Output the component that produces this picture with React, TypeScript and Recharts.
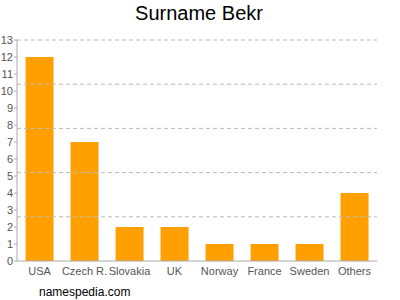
import { Bar, BarChart, ReferenceLine, XAxis, YAxis } from "recharts"

const countries = ["USA", "Czech R.", "Slovakia", "UK", "Norway", "France", "Sweden", "Others"]
const counts = [12, 7, 2, 2, 1, 1, 1, 4]
const yTicks = [0, 1, 2, 3, 4, 5, 6, 7, 8, 9, 10, 11, 12, 13]
const gridValues = [2.6, 5.2, 7.8, 10.4, 13]

const data = countries.map((c, i) => ({ country: c, count: counts[i] }))

const font = "'Liberation Sans', Arial, sans-serif"

export default function App() {
  return (
    <div
      style={{
        position: "absolute",
        left: 0,
        top: 0,
        width: 400,
        height: 300,
        background: "#fff",
        fontFamily: font,
      }}
    >
      <div
        style={{
          position: "absolute",
          top: 2,
          left: 0,
          width: 398,
          textAlign: "center",
          fontSize: 20,
          color: "#000",
        }}
      >
        Surname Bekr
      </div>
      <BarChart
        width={400}
        height={300}
        data={data}
        margin={{ top: 40, right: 23, left: 0, bottom: 9 }}
        barCategoryGap="19%"
      >
        {gridValues.map((v) => (
          <ReferenceLine
            key={v}
            y={v}
            stroke="#bbb"
            strokeDasharray="4 3"
            ifOverflow="extendDomain"
          />
        ))}
        <XAxis
          dataKey="country"
          tick={{ fill: "#555", fontSize: 11, fontFamily: font }}
          tickLine={false}
          axisLine={{ stroke: "#aaa" }}
          interval={0}
          height={30}
          tickMargin={0}
        />
        <YAxis
          domain={[0, 13]}
          ticks={yTicks}
          interval={0}
          width={17}
          tick={{ fill: "#555", fontSize: 11, fontFamily: font }}
          tickLine={{ stroke: "#aaa" }}
          tickSize={3}
          tickMargin={1}
          axisLine={{ stroke: "#aaa" }}
        />
        <Bar dataKey="count" fill="#ffa000" isAnimationActive={false} />
      </BarChart>
      <div
        style={{
          position: "absolute",
          left: 39,
          top: 285,
          fontSize: 12,
          color: "#000",
        }}
      >
        namespedia.com
      </div>
    </div>
  )
}
